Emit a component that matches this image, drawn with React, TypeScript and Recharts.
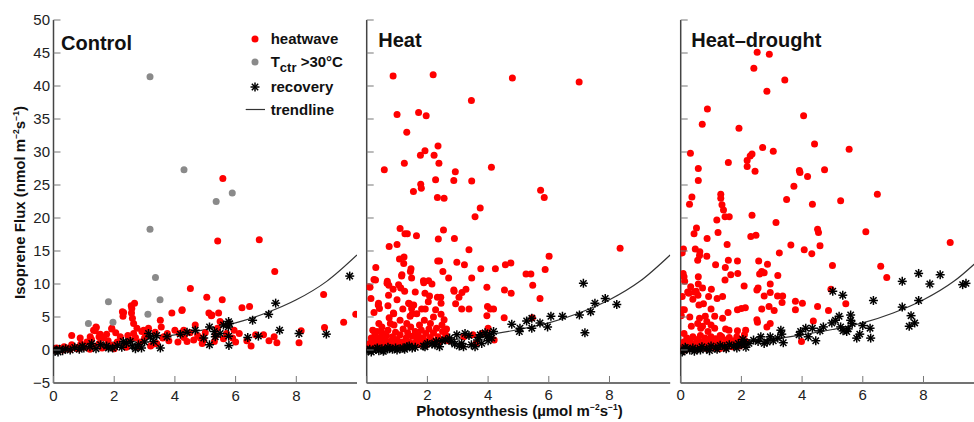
import React from 'react'
import { ComposedChart, Line, Scatter, XAxis, YAxis } from 'recharts'

type Pt = [number, number]

const xTicks = [0, 2, 4, 6, 8]
const yTicks = [-5, 0, 5, 10, 15, 20, 25, 30, 35, 40, 45, 50]
const panelTitles = ['Control', 'Heat', 'Heat\u2013drought']
const legendLabels = ['heatwave', 'Tctr >30°C', 'recovery', 'trendline']

// trendline (same in all panels)
const trendline: Pt[] = [
  [0, 0.6], [1, 0.85], [2, 1.2], [3, 1.65], [4, 2.3], [5, 3.1], [6, 4.1],
  [7, 5.6], [8, 7.6], [9, 10.4], [10, 14.4],
]

const controlHeatwave: Pt[] = [
  [5.58, 26.0], [5.41, 16.5], [6.78, 16.7], [7.29, 11.9], [4.51, 9.3], [5.05, 8.0], [5.56, 7.6],
  [6.21, 6.4], [6.46, 6.6], [4.24, 6.1], [3.9, 5.6], [5.12, 5.6], [5.44, 5.6], [5.2, 5.2],
  [8.9, 8.4], [9.96, 5.4], [9.56, 4.2], [8.93, 3.4], [8.16, 2.9], [8.09, 1.1], [7.36, 1.1],
  [7.27, 2.0], [7.1, 1.4], [6.92, 2.3], [6.66, 2.3], [6.12, 2.5], [6.51, 0.6], [6.37, 1.4],
  [5.49, 4.3], [4.84, 1.8], [4.62, 1.5], [4.67, 3.8], [3.52, 4.5], [3.55, 3.5], [2.58, 6.3],
  [2.67, 7.1], [2.27, 5.8], [2.29, 5.1], [2.57, 5.6], [2.6, 4.8], [1.92, 3.2], [0.6, 2.2],
  [0.88, 1.8], [1.4, 3.5], [1.37, 2.9], [1.54, 2.4], [1.65, 1.8], [1.21, 2.0], [2.2, 2.0],
  [2.64, 2.5], [2.75, 3.3], [2.97, 3.0], [3.63, 2.0], [4.29, 3.0], [1.32, 3.0], [1.41, 3.4],
  [1.92, 3.3], [2.31, 5.7], [2.56, 6.7], [2.64, 4.0], [2.91, 2.8], [3.13, 3.3], [4.23, 6.0],
  [4.4, 1.3], [5.22, 5.3], [5.7, 2.5], [5.9, 1.8], [5.3, 1.3], [5.0, 2.6], [4.9, 1.0],
  [4.1, 1.2], [3.8, 1.4], [3.4, 1.0], [3.2, 0.6], [3.0, 1.8], [2.85, 1.2], [2.5, 1.5],
  [2.35, 0.8], [2.1, 1.2], [1.95, 0.7], [1.8, 1.4], [1.7, 0.5], [1.5, 1.0], [1.3, 0.6],
  [1.1, 1.2], [1.0, 0.4], [0.9, 0.9], [0.75, 0.3], [0.6, 0.8], [0.45, 0.2], [0.35, 0.5],
  [0.2, 0.1], [0.1, 0.3], [0.05, 0.0], [0.3, 0.0], [0.55, 0.1], [0.8, 0.2], [1.2, 0.1],
  [1.6, 0.3], [2.0, 0.2], [2.4, 0.4], [2.8, 0.5], [3.3, 0.9], [3.6, 1.8], [4.3, 1.9],
  [4.5, 2.6], [4.75, 2.2], [5.4, 3.3], [5.95, 3.0], [6.0, 1.2], [1.25, 1.6], [1.5, 2.0],
  [1.75, 2.4], [2.05, 2.6], [2.45, 2.2], [2.7, 1.9], [3.05, 2.3], [3.35, 2.7], [3.75, 2.5],
  [4.0, 3.0], [4.15, 2.5], [5.6, 1.7], [5.35, 2.2], [4.95, 1.5],
]

const controlHot: Pt[] = [
  [3.18, 41.4], [4.3, 27.3], [5.36, 22.5], [5.89, 23.8], [3.18, 18.3], [3.36, 11.0],
  [3.51, 7.6], [1.81, 7.3], [1.96, 4.2], [1.15, 4.0], [3.11, 5.4],
]

const controlRecovery: Pt[] = [
  [9.76, 11.2], [7.32, 7.1], [7.09, 5.4], [6.56, 4.5], [7.45, 3.0], [8.09, 2.5], [8.99, 2.4],
  [6.75, 2.1], [6.4, 1.9], [5.8, 4.0], [5.76, 3.5], [5.77, 2.1], [5.78, 0.7], [5.49, 2.5],
  [5.33, 2.0], [5.14, 3.5], [5.14, 0.8], [4.95, 1.8], [4.67, 3.0], [4.18, 2.4], [3.74, 2.0],
  [3.52, 0.3], [3.19, 2.0], [3.13, 2.5], [3.0, 1.2], [2.8, 0.8], [2.6, 0.6], [2.53, 1.3],
  [2.4, 1.0], [2.25, 0.4], [2.1, 0.7], [1.95, 0.3], [1.81, 0.3], [1.75, 0.6], [1.55, 0.8],
  [1.4, 0.2], [1.26, 1.0], [1.2, 0.5], [1.0, 0.3], [0.85, 0.1], [0.7, 0.4], [0.55, 0.0],
  [0.4, 0.2], [0.3, -0.1], [0.2, 0.1], [0.1, 0.0], [0.05, -0.2], [0.0, 0.1], [0.15, -0.3],
  [2.9, 0.3], [3.3, 1.3], [2.7, 0.2], [3.4, 2.2], [4.4, 2.7], [5.6, 3.8], [5.3, 2.8],
  [0.95, 0.6], [2.3, 1.3], [5.77, 4.3],
]

const heatHeatwave: Pt[] = [
  [0.87, 41.5], [2.19, 41.7], [4.8, 41.2], [7.0, 40.6], [3.45, 37.8], [1.0, 35.7], [1.71, 36.0],
  [1.96, 35.5], [1.32, 33.0], [2.35, 30.9], [1.92, 30.2], [1.77, 29.5], [2.22, 29.5], [2.38, 28.3],
  [1.24, 28.3], [0.58, 27.3], [4.11, 27.7], [2.92, 27.0], [2.27, 25.8], [2.87, 25.7], [3.46, 25.6],
  [1.78, 25.1], [1.8, 24.5], [1.54, 24.0], [5.73, 24.2], [5.85, 23.1], [2.33, 23.1], [2.55, 23.0],
  [3.74, 21.5], [3.57, 20.2], [1.1, 18.4], [1.26, 17.6], [1.34, 17.6], [1.64, 17.3], [2.36, 16.8],
  [2.53, 18.2], [2.89, 16.9], [0.74, 15.7], [1.0, 16.0], [1.08, 13.8], [1.23, 14.1], [1.22, 13.1],
  [2.34, 13.5], [2.4, 13.5], [3.37, 15.2], [2.97, 13.3], [3.22, 12.9], [0.3, 12.5], [4.75, 13.2],
  [4.57, 12.9], [6.01, 14.2], [8.35, 15.4], [5.88, 12.2], [5.25, 11.5], [5.41, 11.5], [4.24, 12.3],
  [3.76, 12.3], [2.51, 11.9], [1.46, 12.3], [1.48, 10.9], [1.15, 11.2], [0.24, 10.7], [0.11, 9.5],
  [0.14, 7.8], [0.68, 10.4], [0.73, 9.8], [0.87, 9.2], [1.12, 9.4], [1.87, 10.5], [2.04, 10.5],
  [2.7, 10.9], [3.46, 10.9], [3.96, 9.5], [4.54, 9.1], [4.76, 8.6], [5.47, 9.8], [5.71, 7.8],
  [2.88, 8.9], [3.27, 9.2], [3.14, 8.7], [3.04, 8.0], [2.93, 7.0], [3.13, 6.2], [3.37, 6.2],
  [3.98, 6.6], [4.07, 6.2], [4.18, 6.2], [3.96, 5.2], [4.53, 4.9], [5.46, 4.9], [1.6, 8.8],
  [1.92, 8.6], [2.07, 8.2], [2.03, 7.3], [2.33, 8.0], [2.44, 8.0], [2.45, 7.1], [2.27, 6.1],
  [2.45, 5.4], [2.55, 4.6], [2.48, 3.8], [2.63, 3.2], [1.81, 6.2], [1.93, 6.2], [1.74, 3.8],
  [0.38, 6.8], [0.42, 6.3], [0.24, 5.7], [0.4, 4.0], [0.27, 2.5], [0.7, 6.7], [0.74, 4.9],
  [1.19, 6.2], [0.88, 5.6], [1.43, 5.1], [1.48, 6.3], [1.41, 7.0], [1.32, 4.0], [0.06, 9.6],
  [0.29, 10.6], [0.39, 7.1], [0.34, 2.8], [0.67, 10.1], [0.72, 8.3], [0.78, 4.0], [0.89, 5.5],
  [1.05, 9.9], [1.16, 11.4], [1.44, 11.9], [1.38, 7.1], [1.88, 10.2], [2.15, 10.0], [2.87, 9.1],
  [1.0, 7.6], [1.25, 8.9], [1.5, 5.5], [1.55, 6.8], [1.65, 5.5], [1.9, 4.5], [2.1, 4.0], [2.2, 5.0],
  [0.05, 0.5], [0.1, 1.0], [0.15, 0.3], [0.2, 1.5], [0.25, 0.8], [0.3, 2.0], [0.35, 1.2],
  [0.4, 0.6], [0.45, 1.8], [0.5, 2.6], [0.55, 1.0], [0.6, 0.4], [0.6, 1.6], [0.65, 2.2],
  [0.7, 3.0], [0.75, 1.3], [0.8, 0.7], [0.85, 2.0], [0.9, 1.1], [0.95, 2.7], [1.0, 1.6],
  [1.05, 0.8], [1.1, 2.3], [1.15, 1.2], [1.2, 3.2], [1.25, 0.9], [1.3, 1.8], [1.35, 2.6],
  [1.4, 1.2], [1.45, 3.5], [1.5, 2.1], [1.55, 1.0], [1.6, 2.8], [1.65, 1.5], [1.7, 2.2],
  [1.75, 1.2], [1.8, 3.0], [1.85, 1.8], [1.9, 1.0], [1.95, 2.5], [2.0, 1.4], [2.05, 3.2],
  [2.1, 1.9], [2.2, 2.6], [2.25, 1.3], [2.3, 3.3], [2.35, 2.0], [2.4, 1.2], [2.5, 2.8],
  [2.55, 1.6], [2.6, 2.3], [2.7, 1.4], [0.2, 3.0], [0.5, 3.5], [0.9, 3.8], [1.1, 4.5],
  [0.15, 1.8], [0.3, 0.5], [0.45, 0.9], [0.7, 0.6], [0.95, 1.0], [1.2, 0.7], [1.45, 0.9],
  [1.7, 0.8], [1.95, 0.7], [3.2, 2.0], [3.5, 2.3], [3.8, 2.5], [4.0, 3.3], [4.2, 1.5], [3.6, 1.0],
]

const heatRecovery: Pt[] = [
  [7.14, 10.1], [7.86, 7.8], [7.52, 7.1], [8.24, 6.9], [7.38, 5.8], [7.01, 5.3], [6.45, 5.1],
  [6.07, 5.1], [5.96, 3.5], [7.19, 2.6], [5.71, 4.1], [5.44, 4.8], [5.27, 4.4], [5.44, 3.3],
  [5.05, 3.3], [5.03, 2.8], [4.78, 3.9], [4.18, 2.8], [4.12, 1.8], [4.05, 2.4], [3.96, 2.0],
  [3.9, 2.6], [3.74, 2.3], [3.79, 1.0], [3.57, 0.5], [3.65, 1.5], [3.37, 2.2], [3.24, 2.5],
  [3.19, 0.5], [3.13, 1.0], [2.97, 2.3], [2.8, 1.3], [2.73, 1.8], [2.6, 1.5], [2.48, 1.4],
  [2.29, 1.3], [2.25, 0.8], [2.15, 0.9], [1.92, 0.5], [1.87, 0.6], [1.6, 0.4], [1.5, 0.3],
  [1.33, 0.5], [1.2, 0.3], [1.1, 0.2], [0.95, 0.3], [0.85, 0.1], [0.75, 0.2], [0.6, 0.0],
  [0.5, 0.2], [0.4, -0.1], [0.3, 0.1], [0.2, 0.0], [0.1, 0.1], [0.05, -0.1], [0.0, 0.0],
  [0.15, -0.3], [0.35, 0.3], [0.55, -0.2], [0.7, 0.4], [1.0, 0.0], [1.25, 0.1], [1.4, 0.6],
  [2.0, 1.0], [2.4, 0.5], [2.9, 0.9], [3.05, 0.6], [3.45, 0.8], [3.7, 1.9], [4.0, 1.4],
]

const droughtHeatwave: Pt[] = [
  [2.52, 45.1], [2.92, 44.8], [2.41, 42.7], [3.43, 40.9], [2.84, 39.2], [0.88, 36.5], [0.71, 34.2],
  [1.92, 33.6], [4.05, 35.5], [2.7, 30.7], [4.41, 31.2], [5.55, 30.4], [0.32, 29.8], [3.05, 30.1],
  [2.35, 29.7], [2.29, 29.4], [2.19, 28.7], [1.57, 28.4], [2.19, 27.8], [2.45, 27.1], [0.58, 27.5],
  [0.58, 25.7], [3.91, 27.2], [3.93, 26.9], [4.74, 27.3], [4.18, 26.3], [3.73, 24.8], [6.48, 23.6],
  [0.37, 23.2], [0.29, 22.1], [1.32, 23.6], [1.32, 23.0], [1.36, 22.0], [1.41, 21.2], [3.49, 22.8],
  [4.34, 22.1], [5.27, 22.6], [2.35, 20.4], [1.19, 19.7], [1.46, 20.2], [1.6, 20.2], [3.14, 19.3],
  [0.52, 18.5], [0.44, 17.6], [1.23, 17.8], [0.87, 16.9], [4.51, 18.3], [4.54, 17.8], [6.1, 17.9],
  [2.31, 17.2], [2.48, 17.4], [1.53, 16.0], [3.63, 15.9], [4.59, 15.8], [4.07, 15.2], [4.32, 14.6],
  [3.25, 14.7], [8.88, 16.3], [0.09, 15.3], [0.05, 14.7], [0.48, 15.3], [0.63, 14.9], [0.56, 13.6],
  [0.86, 14.2], [0.62, 14.3], [1.15, 12.9], [1.57, 13.6], [1.87, 13.5], [1.47, 12.5], [2.57, 13.5],
  [2.67, 11.9], [2.75, 11.7], [2.6, 11.5], [2.86, 13.0], [3.2, 11.3], [5.0, 12.8], [6.59, 12.7],
  [6.79, 11.0], [0.08, 11.6], [0.11, 11.1], [0.13, 10.4], [0.33, 9.6], [0.27, 8.6], [0.45, 8.8],
  [0.51, 8.9], [0.57, 8.3], [0.58, 11.1], [0.58, 10.0], [0.72, 9.4], [0.92, 8.1], [1.01, 9.2],
  [1.38, 8.1], [1.46, 10.6], [1.65, 11.4], [1.88, 11.6], [2.09, 9.7], [2.51, 9.1], [2.55, 9.4],
  [2.75, 8.2], [2.95, 8.7], [2.95, 10.0], [3.19, 8.2], [3.36, 8.2], [3.34, 7.2], [3.08, 6.0],
  [2.91, 6.6], [2.67, 6.2], [2.84, 3.5], [2.95, 4.0], [2.51, 4.6], [2.53, 4.2], [4.95, 9.2],
  [5.44, 7.0], [3.78, 7.4], [4.01, 7.1], [3.78, 6.1], [4.51, 6.6], [4.87, 6.0], [4.37, 4.4],
  [3.98, 1.3], [0.05, 8.1], [0.05, 6.1], [0.02, 5.2], [0.11, 2.5], [1.87, 6.1], [2.0, 6.3],
  [2.13, 6.4], [1.56, 5.7], [1.38, 4.8], [1.12, 5.1], [1.12, 3.3], [0.81, 5.1], [0.86, 4.3],
  [0.56, 4.0], [0.62, 4.8], [0.66, 3.3], [0.72, 3.6], [1.48, 3.2], [1.59, 3.0], [1.87, 2.9],
  [2.14, 3.0], [0.12, 6.1], [0.23, 8.8], [0.4, 7.7], [0.6, 6.8], [0.75, 7.0], [1.0, 6.2],
  [1.2, 7.8], [0.9, 2.8], [1.0, 3.8], [1.3, 2.2], [0.35, 3.6], [0.3, 5.0],
  [0.05, 0.5], [0.1, 1.2], [0.15, 0.3], [0.2, 1.8], [0.25, 0.8], [0.3, 1.4], [0.35, 0.5],
  [0.4, 2.0], [0.45, 1.0], [0.5, 0.4], [0.55, 1.6], [0.6, 0.8], [0.65, 2.2], [0.7, 1.2],
  [0.75, 0.5], [0.8, 1.8], [0.85, 0.9], [0.9, 1.5], [0.95, 0.6], [1.0, 2.0], [1.05, 1.1],
  [1.1, 0.5], [1.15, 1.7], [1.2, 0.9], [1.25, 1.4], [1.3, 0.6], [1.35, 2.0], [1.4, 1.0],
  [1.45, 0.4], [1.5, 1.5], [1.55, 0.8], [1.6, 1.9], [1.65, 1.1], [1.7, 0.5], [1.75, 1.4],
  [1.8, 0.8], [1.85, 2.0], [1.9, 1.2], [1.95, 0.6], [2.0, 1.6], [2.05, 0.9], [2.1, 2.3],
  [2.15, 1.3], [0.02, 0.2], [0.12, 0.0], [0.28, 0.2], [0.48, 0.1], [0.68, 0.3], [0.88, 0.2],
  [1.08, 0.3], [1.28, 0.2], [1.48, 0.3],
]

const droughtRecovery: Pt[] = [
  [7.84, 11.6], [8.55, 11.4], [7.3, 10.4], [8.21, 10.0], [9.29, 9.9], [9.4, 10.1], [5.01, 8.9],
  [5.34, 8.3], [6.35, 7.5], [7.84, 7.5], [7.3, 6.5], [7.59, 5.2], [7.53, 3.6], [7.71, 4.1],
  [5.6, 5.3], [5.22, 5.1], [5.6, 4.5], [4.98, 4.1], [5.27, 3.5], [5.47, 2.8], [5.52, 3.2],
  [6.0, 3.7], [6.24, 3.3], [6.26, 1.8], [5.8, 1.8], [5.9, 2.4], [4.59, 2.9], [4.45, 1.4],
  [4.34, 3.3], [4.12, 3.3], [3.95, 2.8], [3.9, 2.3], [3.3, 3.0], [3.33, 2.4], [3.38, 1.1],
  [3.2, 1.8], [3.05, 1.4], [2.95, 2.0], [2.85, 1.2], [2.75, 1.0], [2.64, 2.0], [2.55, 1.3],
  [2.4, 1.5], [2.25, 1.0], [2.1, 1.2], [2.0, 0.8], [1.9, 1.0], [1.75, 0.6], [1.6, 0.8],
  [1.45, 0.5], [1.3, 0.7], [1.15, 0.3], [1.0, 0.6], [0.85, 0.2], [0.7, 0.5], [0.55, 0.1],
  [0.4, 0.3], [0.3, 0.0], [0.2, 0.2], [0.1, -0.1], [0.0, 0.1], [0.05, -0.3], [0.15, 0.4],
  [0.45, -0.2], [0.65, 0.0], [0.95, -0.1], [1.2, 0.1], [1.5, 0.2], [1.85, 0.3], [2.15, 0.4],
  [2.05, 1.6], [4.2, 2.0], [4.7, 3.5], [5.1, 4.5], [5.35, 2.9], [5.65, 4.0],
]

const FONT = '"Liberation Sans", Arial, sans-serif'
const PLOT_W = 303.5
const TICK_LEN = 7
const TICK_COLOR = '#777'
const FRAME = { stroke: '#444', strokeWidth: 1.5 }

const rows = (pts: Pt[]) => pts.map(([x, y]) => ({ x, y }))
const fmt = (v: number) => (v < 0 ? '\u2212' + Math.abs(v) : String(v))

const redDot = (p: any) => <circle cx={p.cx} cy={p.cy} r={3.5} fill='#ff0000' />
const greyDot = (p: any) => <circle cx={p.cx} cy={p.cy} r={3.5} fill='#8a8a8a' />
const star = (p: any) => {
  const r = 4.5
  const d = r * 0.707
  return (
    <g stroke='#000' strokeWidth={1.5}>
      <line x1={p.cx - r} y1={p.cy} x2={p.cx + r} y2={p.cy} />
      <line x1={p.cx} y1={p.cy - r} x2={p.cx} y2={p.cy + r} />
      <line x1={p.cx - d} y1={p.cy - d} x2={p.cx + d} y2={p.cy + d} />
      <line x1={p.cx - d} y1={p.cy + d} x2={p.cx + d} y2={p.cy - d} />
      <circle cx={p.cx} cy={p.cy} r={1.2} fill='#000' stroke='none' />
    </g>
  )
}

const BottomTick = (p: any) => (
  <g>
    <line x1={p.x} x2={p.x} y1={p.y} y2={p.y - TICK_LEN} stroke={TICK_COLOR} />
    <text x={p.x} y={p.y + 17.5} textAnchor='middle' fontSize={15} fill='#222' fontFamily={FONT}>
      {fmt(p.payload.value)}
    </text>
  </g>
)
const TopTick = (p: any) => <line x1={p.x} x2={p.x} y1={p.y} y2={p.y + TICK_LEN} stroke={TICK_COLOR} />
const RightTick = (p: any) => <line x1={p.x} x2={p.x - TICK_LEN} y1={p.y} y2={p.y} stroke={TICK_COLOR} />
const leftTick = (labels: boolean) => (p: any) => (
  <g>
    <line x1={p.x} x2={p.x + TICK_LEN} y1={p.y} y2={p.y} stroke={TICK_COLOR} />
    {labels && (
      <text x={p.x - 3.5} y={p.y + 5.4} textAnchor='end' fontSize={15} fill='#222' fontFamily={FONT}>
        {fmt(p.payload.value)}
      </text>
    )}
  </g>
)

type PanelProps = {
  left: number
  axisW: number
  labels: boolean
  heatwave: Pt[]
  hot?: Pt[]
  recovery: Pt[]
}

const Panel = ({ left, axisW, labels, heatwave, hot, recovery }: PanelProps) => (
  <div style={{ position: 'absolute', left, top: 0 }}>
    <ComposedChart width={axisW + PLOT_W + 5} height={422} margin={{ top: 20, right: 5, bottom: 0, left: 0 }}>
      <XAxis xAxisId='b' type='number' dataKey='x' domain={[0, 10]} ticks={xTicks} interval={0}
        allowDataOverflow height={39} axisLine={FRAME} tickLine={false} tickSize={0} tickMargin={0} tick={BottomTick} />
      <XAxis xAxisId='t' orientation='top' type='number' dataKey='x' domain={[0, 10]} ticks={xTicks} interval={0}
        allowDataOverflow height={0} axisLine={FRAME} tickLine={false} tickSize={0} tickMargin={0} tick={TopTick} />
      <YAxis yAxisId='l' type='number' dataKey='y' domain={[-5, 50]} ticks={yTicks} interval={0}
        allowDataOverflow width={axisW} axisLine={FRAME} tickLine={false} tickSize={0} tickMargin={0} tick={leftTick(labels)} />
      <YAxis yAxisId='r' orientation='right' type='number' dataKey='y' domain={[-5, 50]} ticks={yTicks} interval={0}
        allowDataOverflow width={0} axisLine={FRAME} tickLine={false} tickSize={0} tickMargin={0} tick={RightTick} />
      <Scatter data={rows(trendline)} xAxisId='t' yAxisId='r' shape={() => <g />} isAnimationActive={false} />
      <Scatter data={rows(heatwave)} xAxisId='b' yAxisId='l' shape={redDot} isAnimationActive={false} />
      {hot && <Scatter data={rows(hot)} xAxisId='b' yAxisId='l' shape={greyDot} isAnimationActive={false} />}
      <Line data={rows(trendline)} dataKey='y' xAxisId='b' yAxisId='l' type='monotone' stroke='#333'
        strokeWidth={1.2} dot={false} isAnimationActive={false} />
      <Scatter data={rows(recovery)} xAxisId='b' yAxisId='l' shape={star} isAnimationActive={false} />
    </ComposedChart>
  </div>
)

const Sup = ({ children }: { children: string }) => (
  <tspan fontSize={8.5} dy={-5.5}>{children}</tspan>
)

export default function App() {
  const bold = { fontFamily: FONT, fontWeight: 700, fill: '#111' }
  return (
    <div style={{ position: 'absolute', left: 0, top: 0, width: 974, height: 422, overflow: 'hidden', background: '#fff' }}>
      <Panel left={0} axisW={53.5} labels heatwave={controlHeatwave} hot={controlHot} recovery={controlRecovery} />
      <Panel left={362} axisW={4.7} labels={false} heatwave={heatHeatwave} recovery={heatRecovery} />
      <Panel left={676} axisW={4.7} labels={false} heatwave={droughtHeatwave} recovery={droughtRecovery} />
      <svg width={974} height={422} style={{ position: 'absolute', left: 0, top: 0, pointerEvents: 'none' }}>
        <text x={61} y={49.5} fontSize={20} {...bold}>{panelTitles[0]}</text>
        <text x={378.3} y={47.3} fontSize={20} {...bold}>{panelTitles[1]}</text>
        <text x={691.3} y={47.3} fontSize={20} {...bold}>{panelTitles[2]}</text>

        {/* legend */}
        <circle cx={255} cy={39} r={3.5} fill='#ff0000' />
        <text x={270.7} y={44.3} fontSize={15} {...bold}>{legendLabels[0]}</text>
        <circle cx={255} cy={62} r={3.5} fill='#8a8a8a' />
        <text x={270.7} y={66.7} fontSize={15} {...bold}>
          T<tspan fontSize={13} dy={5}>ctr</tspan><tspan dy={-5}> {'>30°C'}</tspan>
        </text>
        {star({ cx: 255, cy: 87 })}
        <text x={270.7} y={91.7} fontSize={15} {...bold}>{legendLabels[2]}</text>
        <line x1={245.7} x2={265} y1={109.5} y2={109.5} stroke='#333' strokeWidth={1.2} />
        <text x={270.7} y={115} fontSize={15} {...bold}>{legendLabels[3]}</text>

        <text x={519.5} y={415.7} fontSize={15} textAnchor='middle' {...bold}>
          Photosynthesis (µmol m<Sup>{'\u22122'}</Sup><tspan dy={5.5}>s</tspan><Sup>{'\u22121'}</Sup><tspan dy={5.5}>)</tspan>
        </text>
        <text transform='translate(24.5,202.5) rotate(-90)' fontSize={15} textAnchor='middle' {...bold}>
          Isoprene Flux (nmol m<Sup>{'\u22122'}</Sup><tspan dy={5.5}>s</tspan><Sup>{'\u22121'}</Sup><tspan dy={5.5}>)</tspan>
        </text>
      </svg>
    </div>
  )
}
